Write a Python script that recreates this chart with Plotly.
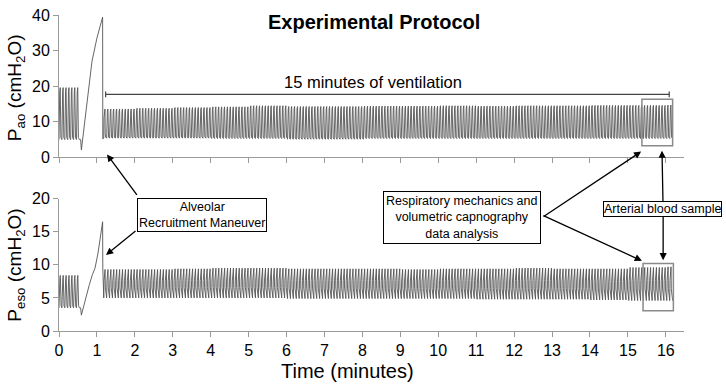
import plotly.graph_objects as go

# ---------------- data ----------------
breaths_per_min = 13.0

# pre-maneuver baseline ventilation (minutes, cmH2O)
base_start, base_end = 0.0, 0.57
base_pao_peak, base_pao_low = 19.6, 5.0
base_peso_peak, base_peso_low = 8.4, 3.5

# recruitment maneuver ramp
rm_pao_t = [0.57, 0.59, 0.70, 0.78, 0.87, 1.00, 1.15, 1.155, 1.17]
rm_pao_v = [5.0, 2.1, 12.0, 19.0, 27.0, 33.5, 39.4, 5.2, 5.3]
rm_peso_t = [0.57, 0.59, 0.70, 0.80, 0.88, 0.95, 1.03, 1.15, 1.155, 1.17]
rm_peso_v = [3.5, 2.4, 5.0, 7.0, 8.5, 9.5, 11.8, 16.5, 9.5, 5.0]

# 15 minutes of ventilation: envelope per minute (cmH2O)
vent_start, vent_end = 1.18, 16.2
vent_minute = [1, 2, 3, 4, 5, 6, 7, 8, 9, 10, 11, 12, 13, 14, 15, 16]
pao_peak = [13.6, 13.8, 14.0, 14.2, 14.5, 14.3, 14.3, 14.4, 14.4, 14.5, 14.4, 14.5, 14.5, 14.6, 14.6, 14.7]
pao_low = [5.4, 5.4, 5.4, 5.3, 5.3, 5.1, 5.1, 5.3, 5.3, 5.3, 5.3, 5.3, 5.3, 5.3, 5.3, 5.3]
peso_peak = [9.3, 9.3, 9.4, 9.5, 9.5, 9.4, 9.4, 9.4, 9.3, 9.4, 9.4, 9.5, 9.4, 9.4, 9.6, 9.7]
peso_low = [5.0, 5.0, 5.0, 5.0, 5.0, 4.9, 4.9, 4.9, 4.9, 4.9, 4.8, 4.8, 4.8, 4.7, 4.6, 4.6]

# shape of one breath: (fraction of period, fraction of amplitude)
pao_breath_shape = [(0.0, 0.0), (0.08, 0.7), (0.25, 0.92), (0.42, 1.0), (0.5, 0.15), (0.65, 0.04), (1.0, 0.0)]
peso_breath_shape = [(0.0, 0.0), (0.1, 0.6), (0.3, 0.9), (0.45, 1.0), (0.55, 0.35), (0.72, 0.06), (1.0, 0.0)]

xticks = list(range(0, 17))
pao_ticks = [0, 10, 20, 30, 40]
peso_ticks = [0, 5, 10, 15, 20]


# ---------------- build traces ----------------
def breaths(t0, t1, peak_of, low_of, shape):
    T = 1.0 / breaths_per_min
    xs, ys = [], []
    t = t0
    while t + T <= t1 + 1e-9:
        p, l = peak_of(t), low_of(t)
        for f, a in shape:
            xs.append(t + f * T)
            ys.append(l + a * (p - l))
        t += T
    return xs, ys


def per_minute(values):
    def f(t):
        i = min(max(int(t) - 1, 0), len(values) - 1)
        return values[i]
    return f


bx, by = breaths(base_start, base_end, lambda t: base_pao_peak, lambda t: base_pao_low, pao_breath_shape)
vx, vy = breaths(vent_start, vent_end, per_minute(pao_peak), per_minute(pao_low), pao_breath_shape)
pao_x = bx + rm_pao_t + vx
pao_y = by + rm_pao_v + vy

bx2, by2 = breaths(base_start, base_end, lambda t: base_peso_peak, lambda t: base_peso_low, peso_breath_shape)
vx2, vy2 = breaths(vent_start, vent_end, per_minute(peso_peak), per_minute(peso_low), peso_breath_shape)
peso_x = bx2 + rm_peso_t + vx2
peso_y = by2 + rm_peso_v + vy2

FONT = "Liberation Sans, Arial, Helvetica, sans-serif"
AX = "#9a9a9a"
WAVE = "#555555"

fig = go.Figure()
fig.add_trace(go.Scatter(x=pao_x, y=pao_y, mode="lines", line=dict(color=WAVE, width=0.9),
                         xaxis="x", yaxis="y", hoverinfo="skip", showlegend=False))
fig.add_trace(go.Scatter(x=peso_x, y=peso_y, mode="lines", line=dict(color=WAVE, width=0.9),
                         xaxis="x2", yaxis="y2", hoverinfo="skip", showlegend=False))

L, R, T_, B = 59, 42, 7, 53
W, H = 726, 384
PW, PH = W - L - R, H - T_ - B


def px(xp):
    return (xp - L) / PW


def py(yp):
    return (H - B - yp) / PH


axis_common = dict(showline=True, linecolor=AX, linewidth=1, ticks="outside", ticklen=5,
                   tickcolor=AX, showgrid=False, zeroline=False,
                   tickfont=dict(size=16, color="black", family=FONT))

fig.update_layout(
    width=W, height=H,
    margin=dict(l=L, r=R, t=T_, b=B),
    paper_bgcolor="white", plot_bgcolor="white",
    font=dict(family=FONT, color="black"),
    xaxis=dict(domain=[0, 1], range=[0, 16.48], anchor="y", tickvals=xticks, showticklabels=False,
               **axis_common),
    yaxis=dict(domain=[py(153), 1.0], range=[0, 40], anchor="x", tickvals=pao_ticks, **axis_common),
    xaxis2=dict(domain=[0, 1], range=[0, 16.48], anchor="y2", tickvals=xticks, **axis_common),
    yaxis2=dict(domain=[0, py(195.3)], range=[0, 20], anchor="x2", tickvals=peso_ticks, **axis_common),
)

ann = []
# title
ann.append(dict(text="<b>Experimental Protocol</b>", xref="paper", yref="paper", x=px(374), y=py(14),
                showarrow=False, font=dict(size=20), xanchor="center", yanchor="middle"))
# axis titles
ann.append(dict(text="Time (minutes)", xref="paper", yref="paper", x=px(347), y=py(372),
                showarrow=False, font=dict(size=20), xanchor="center", yanchor="middle"))
ann.append(dict(text="P<sub>ao</sub> (cmH<sub>2</sub>O)", xref="paper", yref="paper", x=px(16), y=py(82),
                showarrow=False, font=dict(size=19), textangle=-90, xanchor="center", yanchor="middle"))
ann.append(dict(text="P<sub>eso</sub> (cmH<sub>2</sub>O)", xref="paper", yref="paper", x=px(16), y=py(264),
                showarrow=False, font=dict(size=19), textangle=-90, xanchor="center", yanchor="middle"))
# 15 minutes label
ann.append(dict(text="15 minutes of ventilation", xref="x", yref="y", x=8.28, y=21.1,
                showarrow=False, font=dict(size=16.5), xanchor="center", yanchor="middle"))

box_style = dict(showarrow=False, bordercolor="black", borderwidth=1, bgcolor="white",
                 font=dict(size=12.5), xanchor="center", yanchor="middle", align="center")
ann.append(dict(text="Alveolar<br>Recruitment Maneuver", xref="paper", yref="paper",
                x=px(201.7), y=py(212.5), borderpad=1, **box_style))
ann.append(dict(text="Respiratory mechanics and<br>volumetric capnography<br>data analysis",
                xref="paper", yref="paper", x=px(461.7), y=py(214.2), borderpad=2, **box_style))
ann.append(dict(text="Arterial blood sample", xref="paper", yref="paper",
                x=px(662.2), y=py(205.8), borderpad=0, **box_style))

arrow_style = dict(text="", showarrow=True, arrowhead=2, arrowsize=1.1, arrowwidth=1.3,
                   arrowcolor="black")
ann.append(dict(xref="x", yref="y", x=1.266, y=0.82, ax=31, ay=42, **arrow_style))
ann.append(dict(xref="x2", yref="y2", x=1.24, y=11.5, ax=31, ay=-25, **arrow_style))
ann.append(dict(xref="x", yref="y", x=15.35, y=1.64, ax=-99, ay=66, **arrow_style))
ann.append(dict(xref="x2", yref="y2", x=15.37, y=10.6, ax=-100, ay=-46, **arrow_style))
ann.append(dict(xref="x", yref="y", x=15.9, y=1.9, ax=1, ay=52, **arrow_style))
ann.append(dict(xref="x2", yref="y2", x=15.93, y=10.7, ax=0, ay=-45, **arrow_style))
fig.update_layout(annotations=ann)

shapes = []
BR = "#444444"
shapes.append(dict(type="line", xref="x", yref="y", x0=1.23, x1=16.09, y0=17.7, y1=17.7,
                   line=dict(color=BR, width=1.2)))
shapes.append(dict(type="line", xref="x", yref="y", x0=1.23, x1=1.23, y0=16.9, y1=18.5,
                   line=dict(color=BR, width=1.2)))
shapes.append(dict(type="line", xref="x", yref="y", x0=16.09, x1=16.09, y0=16.9, y1=18.5,
                   line=dict(color=BR, width=1.2)))
shapes.append(dict(type="rect", xref="x", yref="y", x0=15.37, x1=16.18, y0=3.29, y1=16.36,
                   line=dict(color="#8a8a8a", width=1.5)))
shapes.append(dict(type="rect", xref="x2", yref="y2", x0=15.40, x1=16.2, y0=3.06, y1=10.19,
                   line=dict(color="#8a8a8a", width=1.5)))
fig.update_layout(shapes=shapes)

fig.write_html("out.html", config={"displayModeBar": False},
               post_script="document.body.style.margin='0';document.body.style.padding='0';")
